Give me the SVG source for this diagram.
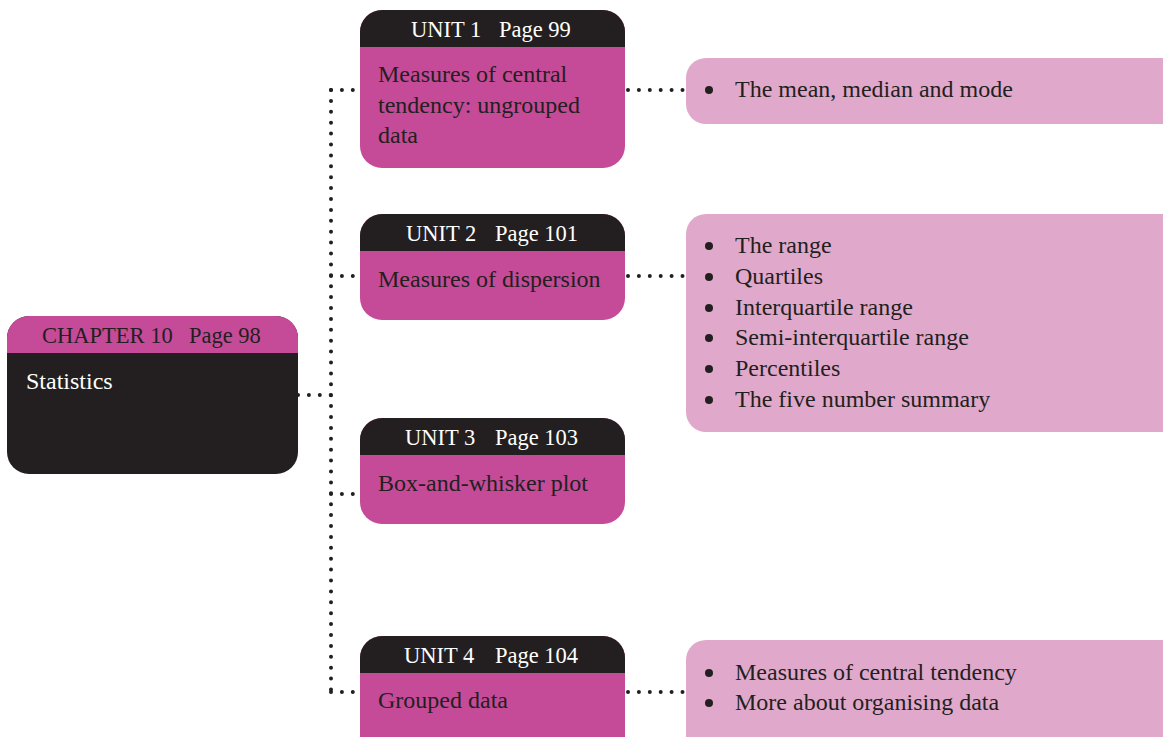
<svg xmlns="http://www.w3.org/2000/svg" width="1163" height="737" viewBox="0 0 1163 737">
<style>
.dark{fill:#231f20}
.mag{fill:#c54b98}
.pink{fill:#e0a9cb}
.t{font-family:"Liberation Serif","DejaVu Serif",serif;font-size:24px}
.h{font-family:"Liberation Serif","DejaVu Serif",serif;font-size:22.5px}
.w{fill:#ffffff}
.k{fill:#231f20}
.dot{fill:none;stroke:#231f20;stroke-width:4;stroke-linecap:round;stroke-dasharray:0 10.9}
</style>
<defs>
<clipPath id="c0"><rect x="7" y="316" width="291" height="158" rx="22"/></clipPath>
<clipPath id="c1"><rect x="360" y="10" width="265" height="158" rx="22"/></clipPath>
<clipPath id="c2"><rect x="360" y="214" width="265" height="106" rx="22"/></clipPath>
<clipPath id="c3"><rect x="360" y="418" width="265" height="106" rx="22"/></clipPath>
<clipPath id="c4"><rect x="360" y="636" width="265" height="150" rx="22"/></clipPath>
</defs>
<rect width="1163" height="737" fill="#ffffff"/>
<g id="connectors">
<path class="dot" d="M331 90 V692"/>
<path class="dot" d="M331 90 H360"/>
<path class="dot" d="M331 276 H360"/>
<path class="dot" d="M298 395 H331"/>
<path class="dot" d="M331 494 H360"/>
<path class="dot" d="M331 692 H360"/>
<path class="dot" d="M628 90 H686"/>
<path class="dot" d="M628 276 H686"/>
<path class="dot" d="M628 692 H686"/>
</g>
<g id="chapter">
<g clip-path="url(#c0)">
<rect class="dark" x="7" y="316" width="291" height="158"/>
<rect class="mag" x="7" y="316" width="291" height="37"/>
</g>
<text class="h k" x="42" y="343">CHAPTER 10</text>
<text class="h k" x="189" y="343">Page 98</text>
<text class="t w" x="26" y="389">Statistics</text>
</g>
<g id="unit1">
<g clip-path="url(#c1)">
<rect class="mag" x="360" y="10" width="265" height="158"/>
<rect class="dark" x="360" y="10" width="265" height="37"/>
</g>
<text class="h w" x="411" y="37">UNIT 1</text>
<text class="h w" x="499" y="37">Page 99</text>
<text class="t k" x="378" y="82">Measures of central</text>
<text class="t k" x="378" y="113">tendency: ungrouped</text>
<text class="t k" x="378" y="143">data</text>
</g>
<g id="unit2">
<g clip-path="url(#c2)">
<rect class="mag" x="360" y="214" width="265" height="106"/>
<rect class="dark" x="360" y="214" width="265" height="37"/>
</g>
<text class="h w" x="406" y="241">UNIT 2</text>
<text class="h w" x="495" y="241">Page 101</text>
<text class="t k" x="378" y="287">Measures of dispersion</text>
</g>
<g id="unit3">
<g clip-path="url(#c3)">
<rect class="mag" x="360" y="418" width="265" height="106"/>
<rect class="dark" x="360" y="418" width="265" height="37"/>
</g>
<text class="h w" x="405" y="445">UNIT 3</text>
<text class="h w" x="495" y="445">Page 103</text>
<text class="t k" x="378" y="491">Box-and-whisker plot</text>
</g>
<g id="unit4">
<g clip-path="url(#c4)">
<rect class="mag" x="360" y="636" width="265" height="150"/>
<rect class="dark" x="360" y="636" width="265" height="37"/>
</g>
<text class="h w" x="404" y="663">UNIT 4</text>
<text class="h w" x="495" y="663">Page 104</text>
<text class="t k" x="378" y="708">Grouped data</text>
</g>
<g id="list1">
<rect class="pink" x="686" y="58" width="500" height="66" rx="20"/>
<circle class="dark" cx="709" cy="90" r="4"/>
<text class="t k" x="735" y="97">The mean, median and mode</text>
</g>
<g id="list2">
<rect class="pink" x="686" y="214" width="500" height="218" rx="20"/>
<circle class="dark" cx="709" cy="246" r="4"/>
<circle class="dark" cx="709" cy="277" r="4"/>
<circle class="dark" cx="709" cy="308" r="4"/>
<circle class="dark" cx="709" cy="338" r="4"/>
<circle class="dark" cx="709" cy="369" r="4"/>
<circle class="dark" cx="709" cy="400" r="4"/>
<text class="t k" x="735" y="253">The range</text>
<text class="t k" x="735" y="284">Quartiles</text>
<text class="t k" x="735" y="315">Interquartile range</text>
<text class="t k" x="735" y="345">Semi-interquartile range</text>
<text class="t k" x="735" y="376">Percentiles</text>
<text class="t k" x="735" y="407">The five number summary</text>
</g>
<g id="list3">
<rect class="pink" x="686" y="640" width="500" height="120" rx="20"/>
<circle class="dark" cx="709" cy="673" r="4"/>
<circle class="dark" cx="709" cy="703" r="4"/>
<text class="t k" x="735" y="680">Measures of central tendency</text>
<text class="t k" x="735" y="710">More about organising data</text>
</g>
</svg>
